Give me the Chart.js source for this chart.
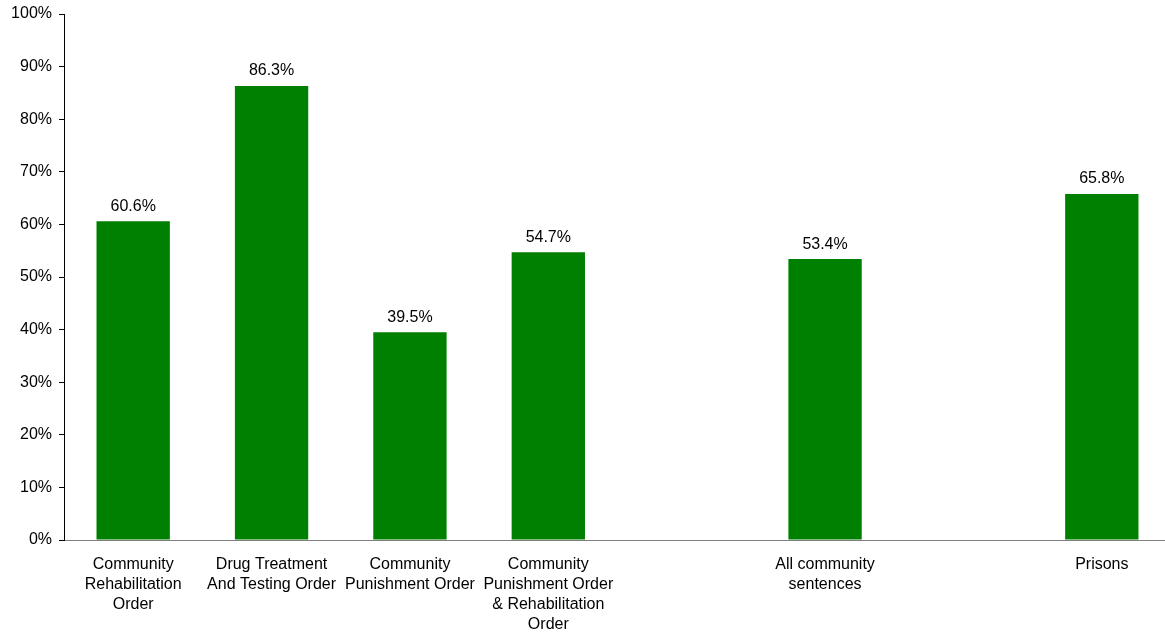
<!DOCTYPE html>
<html>
<head>
<meta charset="utf-8">
<script src="https://cdn.jsdelivr.net/npm/chart.js@4/dist/chart.umd.min.js"></script>
<style>
  html, body { margin: 0; padding: 0; background: #fff; overflow: hidden; }
  canvas { display: block; }
</style>
</head>
<body>
<canvas id="chart" width="1171" height="637"></canvas>
<script>
// categories (blank slots keep the gaps before the last two bars)
const categories = [
  ["Community", "Rehabilitation", "Order"],
  ["Drug Treatment", "And Testing Order"],
  ["Community", "Punishment Order"],
  ["Community", "Punishment Order", "& Rehabilitation", "Order"],
  "",
  ["All community", "sentences"],
  "",
  "Prisons"
];
const values = [60.6, 86.3, 39.5, 54.7, null, 53.4, null, 65.8];
const yTicks = [0, 10, 20, 30, 40, 50, 60, 70, 80, 90, 100];

const FONT = "'Liberation Sans', Arial, sans-serif";

// draws the value above each bar
const valueLabels = {
  id: "valueLabels",
  afterDatasetsDraw(chart) {
    const ctx = chart.ctx;
    const meta = chart.getDatasetMeta(0);
    ctx.save();
    ctx.font = "16px " + FONT;
    ctx.fillStyle = "#000";
    ctx.textAlign = "center";
    ctx.textBaseline = "bottom";
    meta.data.forEach((bar, i) => {
      const v = values[i];
      if (v === null) return;
      ctx.fillText(v.toFixed(1) + "%", bar.x, bar.y - 7);
    });
    ctx.restore();
  }
};

new Chart(document.getElementById("chart").getContext("2d"), {
  type: "bar",
  data: {
    labels: categories,
    datasets: [{
      data: values,
      backgroundColor: "#008000",
      borderWidth: 0,
      barPercentage: 0.53,
      categoryPercentage: 1.0
    }]
  },
  options: {
    responsive: false,
    animation: false,
    layout: { padding: { top: 14, right: 0, left: 0, bottom: 0 } },
    plugins: {
      legend: { display: false },
      tooltip: { enabled: false },
      title: { display: false }
    },
    scales: {
      x: {
        grid: { display: false, drawTicks: false },
        border: { display: true, color: "#808080", width: 1 },
        ticks: {
          color: "#000",
          font: { family: FONT, size: 16, lineHeight: 1.25 },
          padding: 15,
          maxRotation: 0,
          autoSkip: false
        },
        afterFit(scale) { scale.height = 97; }
      },
      y: {
        min: 0,
        max: 100,
        afterBuildTicks(scale) { scale.ticks = yTicks.map(v => ({ value: v })); },
        grid: { display: true, drawOnChartArea: false, drawTicks: true, tickLength: 5, color: "#000" },
        border: { display: true, color: "#000", width: 1 },
        ticks: {
          color: "#000",
          font: { family: FONT, size: 16 },
          padding: 7,
          callback: v => v + "%"
        },
        afterFit(scale) {
          scale.width = 64;
          scale.paddingTop = 0;
          scale.paddingBottom = 0;
        }
      }
    }
  },
  plugins: [valueLabels]
});
</script>
</body>
</html>
